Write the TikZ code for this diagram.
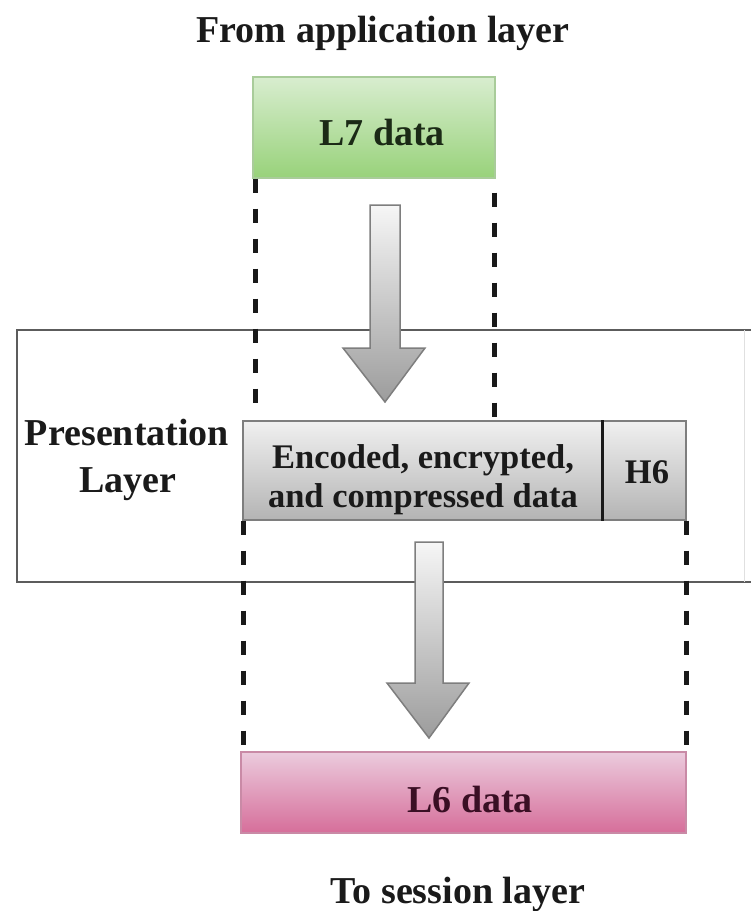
\documentclass[tikz,border=0pt]{standalone}
\usepackage{fontspec}
\setmainfont{Liberation Serif}
\usetikzlibrary{calc}

\definecolor{greentop}{HTML}{D8EDCF}
\definecolor{greenbot}{HTML}{98D27A}
\definecolor{greenedge}{HTML}{A9CC9A}
\definecolor{pinktop}{HTML}{EBCBDD}
\definecolor{pinkbot}{HTML}{D66E9A}
\definecolor{pinkedge}{HTML}{C98AA6}
\definecolor{graytop}{HTML}{F0F0F0}
\definecolor{graybot}{HTML}{B4B4B4}
\definecolor{grayedge}{HTML}{7E7E7E}
\definecolor{frameline}{HTML}{5C5C5C}
\definecolor{arrowtop}{HTML}{F6F6F6}
\definecolor{arrowbot}{HTML}{9C9C9C}
\definecolor{inkgreen}{HTML}{1B2A16}
\definecolor{inkpink}{HTML}{3A0F24}
\definecolor{ink}{HTML}{1A1A1A}

\tikzset{
  databox/.style={rectangle, inner sep=0pt, line width=1.2pt},
  bigtext/.style={font=\fontsize{38}{40}\selectfont\bfseries, text=ink, inner sep=0pt, anchor=base},
  boxtext/.style={font=\fontsize{34.5}{36}\selectfont\bfseries, text=ink, inner sep=0pt, anchor=base},
  dashline/.style={draw=black!90, line width=4.5pt, dash pattern=on 14pt off 16pt},
  bigarrow/.style={draw=grayedge, line width=1.5pt, top color=arrowtop, bottom color=arrowbot, line join=miter},
  layerframe/.style={draw=frameline, line width=2.5pt},
}

\begin{document}
\begin{tikzpicture}[x=1pt, y=-1pt]
\useasboundingbox (0,0) rectangle (751,911);

% presentation layer frame (open on the right)
\draw[layerframe] (751,330) -- (17,330) -- (17,582) -- (751,582);
\draw[draw=black!12, line width=1pt] (744,330) -- (744,582);

% data units
\node[databox, draw=greenedge, top color=greentop, bottom color=greenbot,
      minimum width=242pt, minimum height=101pt] (l7) at (374,127.5) {};
\node[databox, draw=grayedge, top color=graytop, bottom color=graybot,
      minimum width=359pt, minimum height=99pt] (enc) at (422.5,470.5) {};
\node[databox, draw=grayedge, top color=graytop, bottom color=graybot,
      minimum width=84pt, minimum height=99pt] (h6) at (644,470.5) {};
\node[databox, draw=pinkedge, top color=pinktop, bottom color=pinkbot,
      minimum width=445pt, minimum height=81pt] (l6) at (463.5,792.5) {};
\draw[line width=3.5pt, draw=ink] (enc.north east) -- (enc.south east);

% labels
\node[bigtext] (from) at (383,42) {From application layer};
\node[bigtext, text=inkgreen] (l7t) at (382,145) {L7 data};
\node[bigtext] (pres1) at (127,445) {Presentation};
\node[bigtext] (pres2) at (128,492) {Layer};
\node[boxtext] (enc1) at (423,468) {Encoded, encrypted,};
\node[boxtext] (enc2) at (423,507) {and compressed data};
\node[boxtext] (h6t) at (647,483) {H6};
\node[bigtext, text=inkpink] (l6t) at (470,812) {L6 data};
\node[bigtext] (to) at (458,903) {To session layer};

% dashed guides
\draw[dashline] ($(l7.south west)+(3,0)$) -- ($(l7.south west |- enc.north)+(3,-10)$);
\draw[dashline, dash phase=-14pt] ($(l7.south east)+(-1,0)$) -- ($(l7.south east |- enc.north)+(-1,0)$);
\draw[dashline] ($(enc.south west)+(1,0)$) -- ($(enc.south west |- l6.north)+(1,-3)$);
\draw[dashline] (h6.south east) -- ($(h6.south east |- l6.north)+(0,-3)$);

% block arrows
\draw[bigarrow] (370,205) -- (400,205) -- (400,348) -- (425,348) -- (385,402)
  -- (343,348) -- (370,348) -- cycle;
\draw[bigarrow] (415,542) -- (443,542) -- (443,683) -- (469,683) -- (429,738)
  -- (387,683) -- (415,683) -- cycle;
\end{tikzpicture}
\end{document}
